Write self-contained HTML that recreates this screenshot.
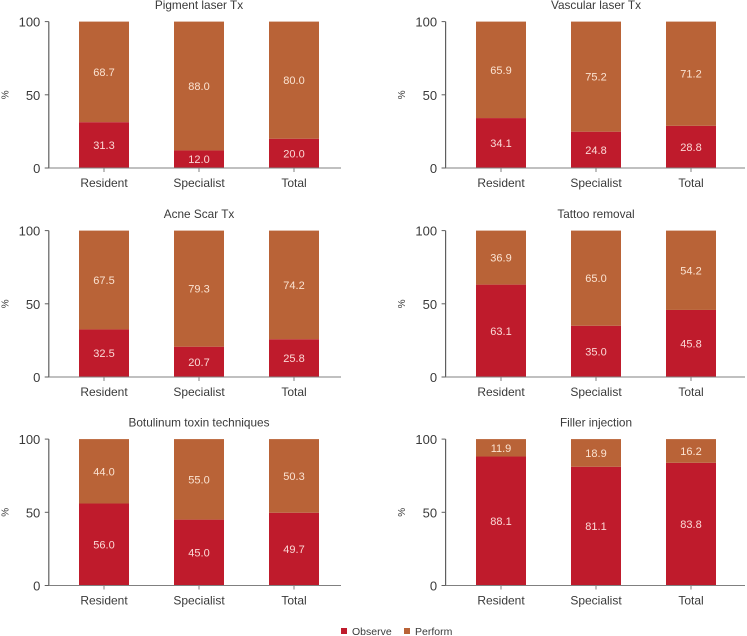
<!DOCTYPE html>
<html>
<head>
<meta charset="utf-8">
<style>
html,body{margin:0;padding:0;background:#fff;}
svg{display:block;font-family:"Liberation Sans",sans-serif;}
</style>
</head>
<body>
<svg id="chart" xmlns="http://www.w3.org/2000/svg" width="747" height="636" viewBox="0 0 747 636"></svg>
<script>
const categories = ["Resident", "Specialist", "Total"];
const yTicks = [0, 50, 100];
const panelTitles = ["Pigment laser Tx", "Vascular laser Tx", "Acne Scar Tx", "Tattoo removal", "Botulinum toxin techniques", "Filler injection"];
const pigmentObserve = [31.3, 12.0, 20.0];
const pigmentPerform = [68.7, 88.0, 80.0];
const vascularObserve = [34.1, 24.8, 28.8];
const vascularPerform = [65.9, 75.2, 71.2];
const acneObserve = [32.5, 20.7, 25.8];
const acnePerform = [67.5, 79.3, 74.2];
const tattooObserve = [63.1, 35.0, 45.8];
const tattooPerform = [36.9, 65.0, 54.2];
const botulinumObserve = [56.0, 45.0, 49.7];
const botulinumPerform = [44.0, 55.0, 50.3];
const fillerObserve = [88.1, 81.1, 83.8];
const fillerPerform = [11.9, 18.9, 16.2];
const observeSeries = [pigmentObserve, vascularObserve, acneObserve, tattooObserve, botulinumObserve, fillerObserve];
const performSeries = [pigmentPerform, vascularPerform, acnePerform, tattooPerform, botulinumPerform, fillerPerform];

const svg = document.getElementById('chart');
const NS = 'http://www.w3.org/2000/svg';
const OBS = '#bf1b2c', PERF = '#b96337', AXIS = '#808080', YAXIS = '#5f5f5f', TXT = '#3a3a3a';

function mk(tag, attrs, text) {
  const el = document.createElementNS(NS, tag);
  for (const k in attrs) el.setAttribute(k, attrs[k]);
  if (text !== undefined) el.textContent = text;
  return el;
}
function slug(s) { return s.toLowerCase().replace(/[^a-z0-9]+/g, '-'); }

const plotH = 146.4, barW = 50, step = 95;
const cols = [
  { axisX: 48.8, endX: 341, firstC: 104 },
  { axisX: 445.6, endX: 745, firstC: 501 }
];
const rowBase = [168, 377, 585.5];

panelTitles.forEach(function (title, i) {
  const col = cols[i % 2];
  const base = rowBase[Math.floor(i / 2)];
  const yScale = function (v) { return base - v / 100 * plotH; };
  const xScale = function (j) { return col.firstC + j * step; };
  const g = mk('g', {});
  
  
  svg.appendChild(g);

  const t = mk('text', { x: xScale(1), y: yScale(100) - 12.5, 'text-anchor': 'middle', 'font-size': 11.8, fill: TXT }, title);
  
  
  g.appendChild(t);

  categories.forEach(function (cat, j) {
    const cx = xScale(j);
    const ov = observeSeries[i][j], pv = performSeries[i][j];
    const r1 = mk('rect', { x: cx - barW / 2, y: yScale(ov), width: barW, height: yScale(0) - yScale(ov), fill: OBS });
    
    
    g.appendChild(r1);
    const r2 = mk('rect', { x: cx - barW / 2, y: yScale(ov + pv), width: barW, height: yScale(ov) - yScale(ov + pv), fill: PERF });
    
    
    g.appendChild(r2);
    const l1 = mk('text', { x: cx, y: yScale(ov / 2) + 4, 'text-anchor': 'middle', 'font-size': 11, fill: '#fbd9d6' }, ov.toFixed(1));
    
    
    g.appendChild(l1);
    const l2 = mk('text', { x: cx, y: yScale(ov + pv / 2) + 4, 'text-anchor': 'middle', 'font-size': 11, fill: '#fbe3d2' }, pv.toFixed(1));
    
    
    g.appendChild(l2);
    const tick = mk('line', { x1: cx, x2: cx, y1: base, y2: base + 4, stroke: AXIS, 'stroke-width': 1 });
    
    
    g.appendChild(tick);
    const cl = mk('text', { x: cx, y: base + 19, 'text-anchor': 'middle', 'font-size': 12, fill: TXT }, cat);
    
    
    g.appendChild(cl);
  });

  const ya = mk('line', { x1: col.axisX, x2: col.axisX, y1: yScale(100), y2: base, stroke: YAXIS, 'stroke-width': 1.2 });
  
  
  g.appendChild(ya);
  const xa = mk('line', { x1: col.axisX - 4, x2: col.endX, y1: base, y2: base, stroke: AXIS, 'stroke-width': 1 });
  
  
  g.appendChild(xa);

  yTicks.forEach(function (v) {
    const yt = mk('line', { x1: col.axisX - 4, x2: col.axisX, y1: yScale(v), y2: yScale(v), stroke: YAXIS, 'stroke-width': 1 });
    
    
    g.appendChild(yt);
    const yl = mk('text', { x: col.axisX - 8.5, y: yScale(v) + 5, 'text-anchor': 'end', 'font-size': 13, fill: TXT }, String(v));
    
    
    g.appendChild(yl);
  });

  const yx = col.axisX - 40.5, yy = yScale(50);
  const yTitle = mk('text', { x: yx, y: yy, 'text-anchor': 'middle', 'font-size': 10, fill: TXT, transform: 'rotate(-90 ' + yx + ' ' + yy + ')' }, '%');
  
  
  g.appendChild(yTitle);
});

const legend = mk('g', {});


svg.appendChild(legend);
const legendItems = [['Observe', OBS, 341], ['Perform', PERF, 404]];
legendItems.forEach(function (it) {
  const sw = mk('rect', { x: it[2], y: 628, width: 6, height: 6, fill: it[1] });
  
  
  legend.appendChild(sw);
  const lt = mk('text', { x: it[2] + 11, y: 635, 'font-size': 10.5, fill: TXT }, it[0]);
  
  
  legend.appendChild(lt);
});
</script>
</body>
</html>
